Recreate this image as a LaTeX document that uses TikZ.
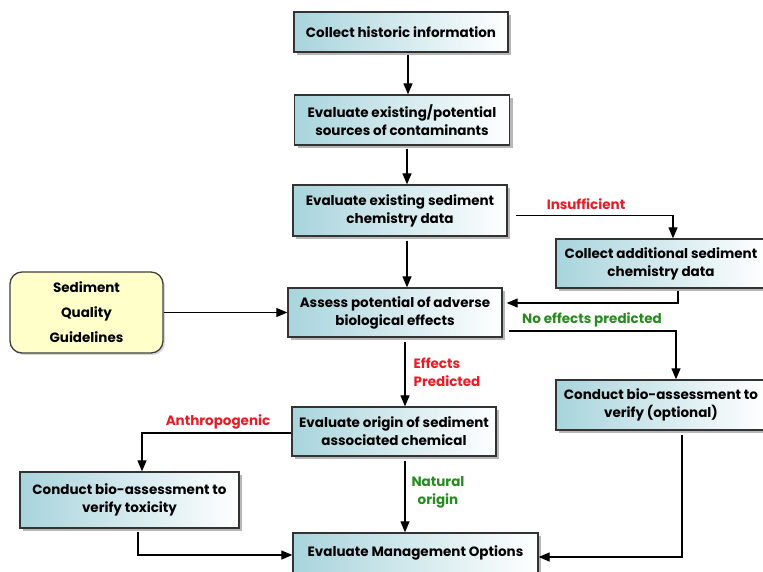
\documentclass[tikz,border=0pt]{standalone}
\usepackage{fontspec}
\setmainfont{Poppins}
\usetikzlibrary{arrows.meta,shadows}

\definecolor{boxcyan}{RGB}{168,212,220}
\definecolor{sqgyellow}{RGB}{255,255,202}
\definecolor{lblred}{RGB}{232,28,36}
\definecolor{lblgreen}{RGB}{38,140,30}

\tikzset{
  stepbox/.style={draw=black!80, line width=1.3pt, left color=boxcyan, right color=white,
    drop shadow={shadow xshift=3pt, shadow yshift=-3pt, fill=black!40, opacity=0.7},
    align=center, inner sep=0pt,
    font=\bfseries\fontsize{13.5}{18}\selectfont},
  guidebox/.style={draw=black!75, line width=1.3pt, fill=sqgyellow, rounded corners=12pt,
    drop shadow={shadow xshift=2pt, shadow yshift=-2pt, fill=black!25, opacity=0.6},
    align=center, inner sep=0pt,
    font=\bfseries\fontsize{13.5}{25}\selectfont},
  flow/.style={line width=1.2pt, -{Triangle[length=11pt,width=9pt]}},
  lbl/.style={font=\bfseries\fontsize{13.5}{18}\selectfont, inner sep=0pt},
}

\begin{document}
\begin{tikzpicture}[x=1pt,y=-1pt]
  \useasboundingbox (0,0) rectangle (763,571);

  % process boxes
  \node[stepbox, minimum width=214pt, minimum height=40pt] (h1) at (401,32)
    {Collect historic information};
  \node[stepbox, minimum width=215pt, minimum height=50pt] (h2) at (402,120)
    {Evaluate existing/potential\\sources of contaminants};
  \node[stepbox, minimum width=214pt, minimum height=51pt] (h3) at (400,210.5)
    {Evaluate existing sediment\\chemistry data};
  \node[stepbox, minimum width=210pt, minimum height=49pt] (h4) at (661,263.5)
    {Collect additional sediment\\chemistry data};
  \node[stepbox, minimum width=214pt, minimum height=49pt] (h5) at (395,312.5)
    {Assess potential of adverse\\biological effects};
  \node[guidebox, minimum width=153pt, minimum height=81pt] (sqg) at (86.5,312.5)
    {Sediment\\Quality\\Guidelines};
  \node[stepbox, minimum width=210pt, minimum height=50pt] (h6) at (661,405)
    {Conduct bio-assessment to\\verify (optional)};
  \node[stepbox, minimum width=204pt, minimum height=49pt] (h7) at (394,431.5)
    {Evaluate origin of sediment\\associated chemical};
  \node[stepbox, minimum width=219pt, minimum height=56pt] (h8) at (129.5,500)
    {Conduct bio-assessment to\\verify toxicity};
  \node[stepbox, minimum width=245pt, minimum height=40pt] (h9) at (415.5,553)
    {Evaluate Management Options};

  % main vertical chain
  \draw[flow, shorten <=2pt] ([xshift=7pt]h1.south) -- ([xshift=7pt]h1.south |- h2.north);
  \draw[flow, shorten <=3pt] ([xshift=5pt]h2.south) -- ([xshift=5pt]h2.south |- h3.north);
  \draw[flow, shorten <=4pt] ([xshift=7pt]h3.south) -- ([xshift=7pt]h3.south |- h5.north);
  \draw[flow, shorten <=4pt] ([xshift=10pt]h5.south) -- ([xshift=10pt]h5.south |- h7.north);
  \draw[flow, shorten <=4pt] ([xshift=11pt]h7.south) -- ([xshift=11pt]h7.south |- h9.north);

  % side branches
  \draw[flow] ([xshift=8pt,yshift=-5pt]h3.east) -| ([xshift=12pt]h4.north);
  \draw[flow, shorten <=2pt] ([xshift=17pt]h4.south) |- ([xshift=4pt,yshift=9.5pt]h5.east);
  \draw[flow] (sqg.east) -- (h5.west);
  \draw[flow] ([xshift=6pt,yshift=-18.5pt]h5.east) -| ([xshift=15pt]h6.north);
  \draw[flow] ([yshift=-1.5pt]h7.west) -| ([xshift=12.5pt]h8.north);
  \draw[flow, shorten <=3pt] ([xshift=8.5pt]h8.south) |- ([yshift=-2pt]h9.west);
  \draw[flow, shorten <=4pt] ([xshift=21pt]h6.south) |- ([yshift=-4pt]h9.east);

  % decision labels
  \node[lbl, text=lblred] (insuf) at (586,204) {Insufficient};
  \node[lbl, text=lblgreen] (noeff) at (592,320) {No effects predicted};
  \node[lbl, text=lblred, align=left] (effp) at (447,372) {Effects\\Predicted};
  \node[lbl, text=lblred] (anthro) at (218,422) {Anthropogenic};
  \node[lbl, text=lblgreen, align=center] (natural) at (438,492) {Natural\\origin};
\end{tikzpicture}
\end{document}
